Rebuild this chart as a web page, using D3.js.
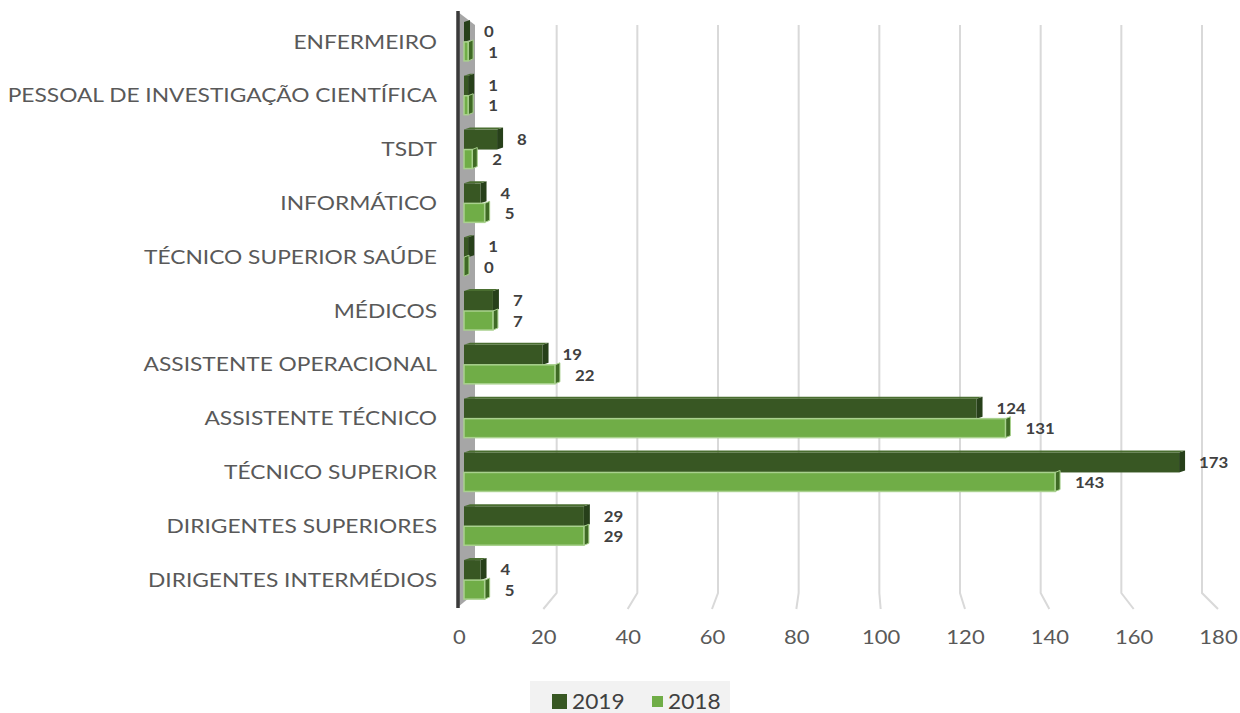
<!DOCTYPE html>
<html>
<head>
<meta charset="utf-8">
<script src="https://cdn.jsdelivr.net/npm/d3@7"></script>
<style>
  html, body { margin: 0; padding: 0; background: #ffffff; }
  svg { display: block; }
</style>
</head>
<body>
<svg id="chart" width="1240" height="713"></svg>
<script>
const categories = [
  "ENFERMEIRO",
  "PESSOAL DE INVESTIGAÇÃO CIENTÍFICA",
  "TSDT",
  "INFORMÁTICO",
  "TÉCNICO SUPERIOR SAÚDE",
  "MÉDICOS",
  "ASSISTENTE OPERACIONAL",
  "ASSISTENTE TÉCNICO",
  "TÉCNICO SUPERIOR",
  "DIRIGENTES SUPERIORES",
  "DIRIGENTES INTERMÉDIOS"
];
const values2019 = [0, 1, 8, 4, 1, 7, 19, 124, 173, 29, 4];
const values2018 = [1, 1, 2, 5, 0, 7, 22, 131, 143, 29, 5];
const seriesNames = ["2019", "2018"];
const tickValues = [0, 20, 40, 60, 80, 100, 120, 140, 160, 180];

const svg = d3.select("#chart");
const font = "Lato, 'Open Sans', sans-serif";

const colors = {
  dark: "#385723", darkSide: "#27401a",
  light: "#70ad47", lightStroke: "#a9d18e", lightSide: "#3f6a25"
};

// scales
const y = d3.scaleBand().domain(categories).range([15, 607]).paddingInner(0).paddingOuter(0);
const xBar = d3.scaleLinear().domain([0, 180]).range([464, 1208]);
const xBack = d3.scaleLinear().domain([0, 180]).range([476, 1202]);
const xFront = d3.scaleLinear().domain([0, 180]).range([459, 1218]);

const gridTop = 25, gridBend = 593, gridBottom = 609;

// back-wall gridlines with floor diagonals
const grid = svg.append("g");
grid.selectAll("path").data(tickValues.filter(d => d > 0)).join("path")
  .attr("d", d => `M${xBack(d)},${gridTop} L${xBack(d)},${gridBend} L${xFront(d)},${gridBottom}`)
  .attr("fill", "none").attr("stroke", "#d9d9d9").attr("stroke-width", 2);

// left side wall (grey band) + axis line
svg.append("path")
  .attr("d", `M458,12 L475,25 L475,593 L458,607 Z`)
  .attr("fill", "#a6a6a6");
svg.append("line").attr("x1", 458).attr("x2", 458).attr("y1", 11).attr("y2", 608)
  .attr("stroke", "#3a3a3a").attr("stroke-width", 3.5);

// tick labels (front edge of floor)
const xAxis = d3.axisBottom(xFront).tickValues(tickValues).tickSize(0).tickPadding(0);
const axG = svg.append("g").attr("transform", `translate(0,${gridBottom + 28})`).call(xAxis);
axG.select(".domain").remove();
axG.selectAll("text").attr("font-family", font).attr("font-size", 20)
  .attr("fill", "#595959").attr("dy", "0.35em").attr("transform", "scale(1.1,1)");

// category labels (horizontally widened like the source)
const yAxis = d3.axisLeft(y).tickSize(0).tickPadding(0);
const ayG = svg.append("g").attr("transform", "translate(437,0)").call(yAxis);
ayG.select(".domain").remove();
ayG.selectAll("text").attr("font-family", font).attr("font-size", 18.5)
  .attr("fill", "#595959").attr("dy", "0.36em").attr("transform", "scale(1.23,1)");

// bars
const rows = categories.map((c, i) => ({ c, v19: values2019[i], v18: values2018[i] }));
const barH19 = 20, barH18 = 19, side = 6, lift = 2;

function valueLabel(x, yy, v) {
  g.append("text").attr("transform", `translate(${x},${yy}) scale(1.12,1)`).attr("dy", "0.35em")
    .attr("font-family", font).attr("font-weight", "bold").attr("font-size", 15)
    .attr("fill", "#404040").text(v);
}

const g = svg.append("g");
rows.forEach(r => {
  const cy = y(r.c) + y.bandwidth() / 2;
  // 2019 (dark) above center
  const t19 = cy - barH19, x0 = xBar(0), xe19 = xBar(r.v19);
  g.append("rect").attr("x", x0).attr("y", t19).attr("width", xe19 - x0).attr("height", barH19)
    .attr("fill", colors.dark);
  g.append("path")
    .attr("d", `M${xe19},${t19} L${xe19 + side},${t19 - lift} L${xe19 + side},${cy - lift} L${xe19},${cy} Z`)
    .attr("fill", colors.darkSide);
  g.append("path")
    .attr("d", `M${x0},${t19} L${x0 + side},${t19 - lift} L${xe19 + side},${t19 - lift} L${xe19},${t19} Z`)
    .attr("fill", "#4a6e30");
  valueLabel(xe19 + 20, cy - barH19 / 2, r.v19);

  // 2018 (light) below center
  const t18 = cy, xe18 = xBar(r.v18);
  g.append("path")
    .attr("d", `M${xe18},${t18} L${xe18 + side - 1},${t18 - lift} L${xe18 + side - 1},${t18 + barH18 - lift} L${xe18},${t18 + barH18} Z`)
    .attr("fill", colors.lightSide).attr("stroke", colors.lightStroke).attr("stroke-width", 1);
  g.append("rect").attr("x", x0).attr("y", t18).attr("width", Math.max(xe18 - x0, 0)).attr("height", barH18)
    .attr("fill", colors.light).attr("stroke", colors.lightStroke).attr("stroke-width", 1.5);
  valueLabel(xe18 + 20, cy + barH18 / 2 + 1, r.v18);
});

// legend
const lg = svg.append("g");
lg.append("rect").attr("x", 530).attr("y", 681).attr("width", 200).attr("height", 32).attr("fill", "#f2f2f2");
const legendItems = [
  { name: seriesNames[0], color: colors.dark, x: 552, size: 15 },
  { name: seriesNames[1], color: colors.light, x: 652, size: 11 }
];
legendItems.forEach(d => {
  lg.append("rect").attr("x", d.x).attr("y", 701.5 - d.size / 2).attr("width", d.size).attr("height", d.size)
    .attr("fill", d.color);
  lg.append("text").attr("transform", `translate(${d.x + (d.size === 15 ? 20 : 16)},701) scale(1.08,1)`).attr("dy", "0.36em")
    .attr("font-family", font).attr("font-size", 21).attr("fill", "#404040").text(d.name);
});
</script>
</body>
</html>
